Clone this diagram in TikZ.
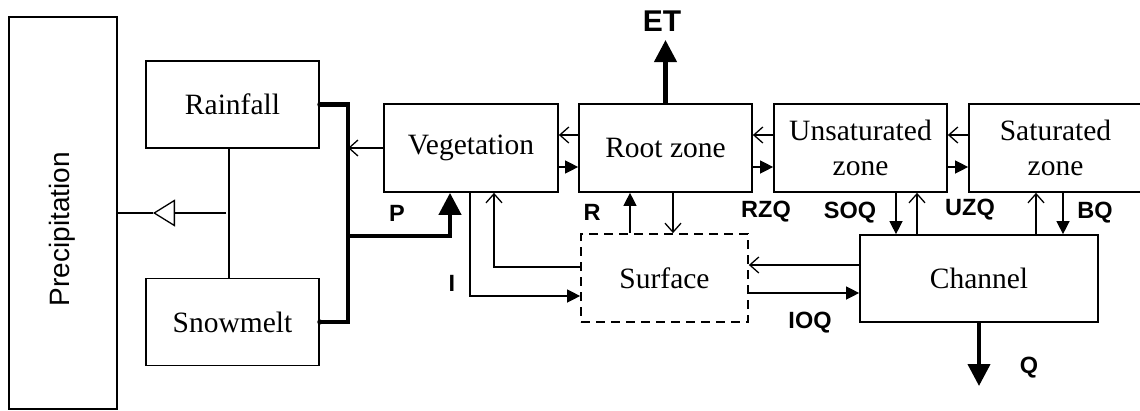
\documentclass[tikz,border=0pt]{standalone}
\usepackage{fontspec}
\setmainfont{Liberation Serif}
\newfontfamily\lsans{Liberation Sans}
\usetikzlibrary{arrows.meta}
\begin{document}
\begin{tikzpicture}[x=1pt,y=-1pt,
  box/.style={draw,line width=1.7pt,inner sep=0pt,align=center,font=\fontsize{29.5}{35}\selectfont},
  zonebox/.style={box,minimum width=173pt,minimum height=88pt},
  lbl/.style={font=\lsans\bfseries\fontsize{23.5}{23.5}\selectfont,inner sep=0pt},
  conn/.style={line width=1.3pt},
  fwd/.style={conn,-{Triangle[length=13pt,width=13pt]}},
  back/.style={conn,-{Straight Barb[length=9pt,width=16pt]}},
  heavy/.style={line width=4.2pt},
  bigtip/.style={heavy,-{Triangle[length=22pt,width=22pt]}},
  ]
\useasboundingbox (0,0) rectangle (1140,410);

% nodes
\node[box,minimum width=108pt,minimum height=392pt] (prec) at (63,213) {};
\node[font=\lsans\fontsize{28}{28}\selectfont,rotate=90,inner sep=0pt] (prect) at (62,229) {Precipitation};
\node[box,minimum width=173pt,minimum height=87pt] (rain) at (232.5,104.5) {Rainfall};
\node[box,minimum width=173pt,minimum height=87pt] (snow) at (232.5,322) {Snowmelt};
\node[zonebox,minimum width=174pt] (veg) at (471,148) {Vegetation};
\node[zonebox] (root) at (665.5,148) {Root zone};
\node[zonebox] (unsat) at (860.5,148) {Unsaturated\\zone};
\node[zonebox] (sat) at (1055.5,148) {Saturated\\zone};
\node[box,dash pattern=on 9pt off 6pt,minimum width=167pt,minimum height=88pt] (surf) at (664.5,278) {Surface};
\node[box,minimum width=238pt,minimum height=87pt] (chan) at (979,278.5) {Channel};

% helper coordinates
\coordinate (bus) at (348,0);
\coordinate (gj) at (226,213);
\coordinate (gt) at (153,213);
\coordinate (etend) at (665.5,40);
\coordinate (qend) at (979,386);

% precipitation generalization
\draw[conn] (rain.south -| 229,0) -- (snow.north -| 229,0);
\draw[conn,-{Triangle[open,length=22pt,width=27pt]}] (gj) -- (gt);
\draw[conn] (gt) -- (prec.east |- gt);

% thick precipitation input
\draw[heavy,line join=miter] (rain.east) -- (rain.east -| bus) -- (snow.east -| bus) -- (snow.east);
\fill (rain.east) circle (2.6pt);
\fill (snow.east) circle (2.6pt);
\draw[bigtip] (bus |- 0,236) -| ([xshift=-21pt]veg.south);
\draw[back] (veg.west) -- (veg.west -| bus);

% horizontal exchanges
\draw[back] (root.west |- 0,135) -- (veg.east |- 0,135);
\draw[fwd] (veg.east |- 0,167) -- (root.west |- 0,167);
\draw[back] (unsat.west |- 0,135) -- (root.east |- 0,135);
\draw[fwd] (root.east |- 0,167) -- (unsat.west |- 0,167);
\draw[back] (sat.west |- 0,135) -- (unsat.east |- 0,135);
\draw[fwd] (unsat.east |- 0,167) -- (sat.west |- 0,167);

% ET and Q
\draw[bigtip] (root.north) -- (etend);
\draw[bigtip] (chan.south) -- (qend);

% surface links
\draw[fwd] (surf.north -| 630,0) -- (root.south -| 630,0);
\draw[back] (root.south -| 673,0) -- (surf.north -| 673,0);
\draw[fwd] (veg.south -| 470,0) |- (surf.west |- 0,296);
\draw[back] (surf.west |- 0,267) -| (veg.south -| 494,0);
\draw[back] (chan.west |- 0,265) -- (surf.east |- 0,265);
\draw[fwd] (surf.east |- 0,293) -- (chan.west |- 0,293);

% channel links
\draw[fwd] (unsat.south -| 896,0) -- (chan.north -| 896,0);
\draw[back] (chan.north -| 917,0) -- (unsat.south -| 917,0);
\draw[back] (chan.north -| 1036,0) -- (sat.south -| 1036,0);
\draw[fwd] (sat.south -| 1063,0) -- (chan.north -| 1063,0);

% labels
\node[lbl,font=\lsans\bfseries\fontsize{30}{30}\selectfont] (et) at (662,21) {ET};
\node[lbl] (lp) at (397,213) {P};
\node[lbl] (lr) at (592,212) {R};
\node[lbl] (lrzq) at (766,212) {RZQ};
\node[lbl] (lsoq) at (850,213) {SOQ};
\node[lbl] (luzq) at (970,210) {UZQ};
\node[lbl] (lbq) at (1095,213) {BQ};
\node[lbl] (li) at (452,283) {I};
\node[lbl] (lioq) at (810,323) {IOQ};
\node[lbl] (lq) at (1029,368) {Q};
\end{tikzpicture}
\end{document}
